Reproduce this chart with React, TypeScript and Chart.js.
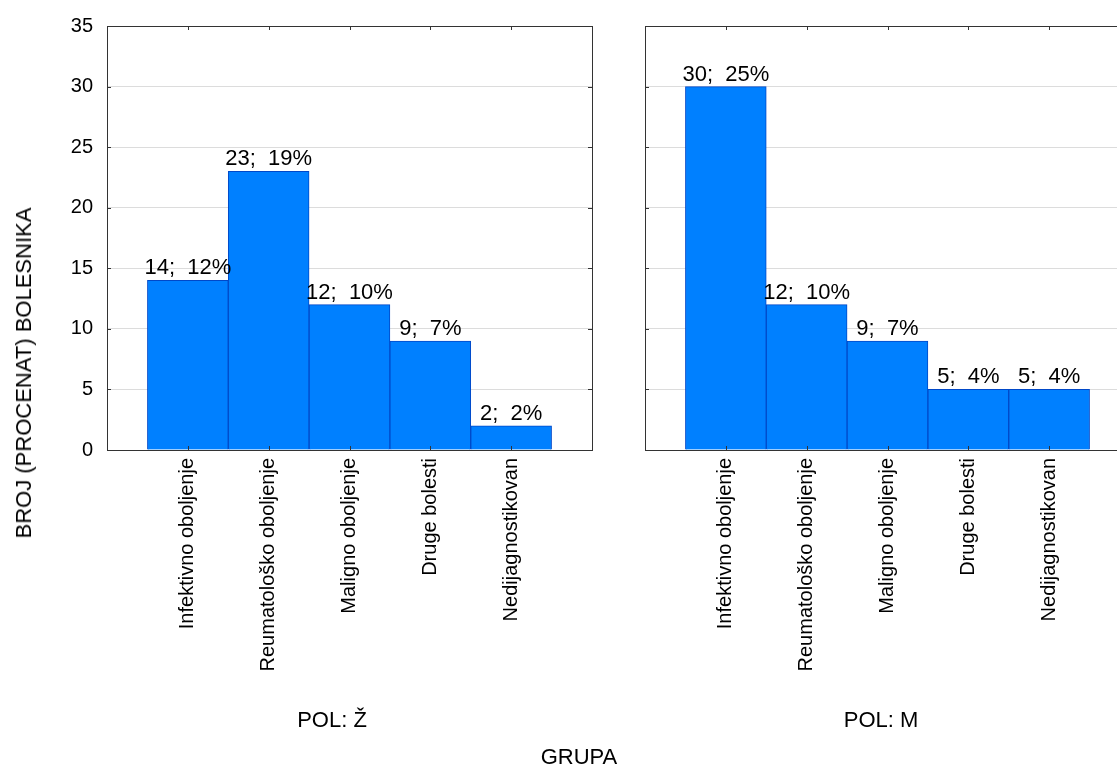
import React, { useEffect, useRef } from "react";
import { Chart, registerables } from "chart.js";

Chart.register(...registerables);

const categories = [
  "Infektivno oboljenje",
  "Reumatološko oboljenje",
  "Maligno oboljenje",
  "Druge bolesti",
  "Nedijagnostikovan",
];
const femaleCounts = [14, 23, 12, 9, 2];
const femalePercents = ["12%", "19%", "10%", "7%", "2%"];
const maleCounts = [30, 12, 9, 5, 5];
const malePercents = ["25%", "10%", "7%", "4%", "4%"];
const yTicks = [0, 5, 10, 15, 20, 25, 30, 35];

const FONT = "'Liberation Sans', Arial, sans-serif";

function makeConfig(values: number[], percents: string[], showY: boolean, yWidth: number, rightPad: number): any {
  const labels = ["", ...categories, ""];
  const data = [null, ...values, null];
  const framePlugin = {
    id: "frame",
    afterDatasetsDraw(chart: any) {
      const ctx = chart.ctx;
      const meta = chart.getDatasetMeta(0);
      ctx.save();
      ctx.fillStyle = "#000";
      ctx.font = `22px ${FONT}`;
      ctx.textAlign = "center";
      ctx.textBaseline = "alphabetic";
      meta.data.forEach((bar: any, i: number) => {
        const v = data[i];
        if (v == null) return;
        ctx.fillText(`${v};  ${percents[i - 1]}`, bar.x, bar.y - 6);
      });
      ctx.restore();
    },
    afterDraw(chart: any) {
      const ctx = chart.ctx;
      const { left, right, top, bottom } = chart.chartArea;
      const xs = chart.scales.x;
      const ys = chart.scales.y;
      ctx.save();
      ctx.strokeStyle = "#333";
      ctx.lineWidth = 1;
      ctx.strokeRect(Math.round(left) + 0.5, Math.round(top) + 0.5, Math.round(right - left), Math.round(bottom - top));
      ctx.beginPath();
      for (let i = 1; i <= categories.length; i++) {
        const px = Math.round(xs.getPixelForValue(i)) + 0.5;
        ctx.moveTo(px, bottom);
        ctx.lineTo(px, bottom - 4);
        ctx.moveTo(px, top);
        ctx.lineTo(px, top + 4);
      }
      yTicks.forEach((t) => {
        const py = Math.round(ys.getPixelForValue(t)) + 0.5;
        ctx.moveTo(left, py);
        ctx.lineTo(left + 4, py);
        ctx.moveTo(right, py);
        ctx.lineTo(right - 4, py);
      });
      ctx.stroke();
      ctx.restore();
    },
  };
  return {
    type: "bar",
    data: {
      labels,
      datasets: [
        {
          data,
          backgroundColor: "rgb(0,128,255)",
          borderColor: "rgb(0,72,200)",
          borderWidth: 1,
          barPercentage: 1,
          categoryPercentage: 1,
        },
      ],
    },
    options: {
      responsive: false,
      animation: false,
      layout: { padding: { left: 0, right: rightPad, top: 26, bottom: 69 } },
      plugins: { legend: { display: false }, tooltip: { enabled: false } },
      scales: {
        x: {
          type: "category",
          offset: false,
          grid: { display: false, drawTicks: false },
          border: { display: false },
          ticks: {
            autoSkip: false,
            minRotation: 90,
            maxRotation: 90,
            padding: 8,
            color: "#000",
            font: { family: FONT, size: 20 },
          },
          afterFit: (s: any) => {
            s.height = 250;
            s.paddingLeft = 0;
            s.paddingRight = 0;
          },
        },
        y: {
          min: 0,
          max: 35,
          ticks: {
            display: showY,
            stepSize: 5,
            padding: 14,
            color: "#000",
            font: { family: FONT, size: 20 },
          },
          grid: { color: "#dcdcdc", drawTicks: false },
          border: { display: false },
          afterFit: (s: any) => {
            s.width = yWidth;
            s.paddingTop = 0;
            s.paddingBottom = 0;
          },
        },
      },
    },
    plugins: [framePlugin],
  };
}

export default function App() {
  const c1 = useRef<HTMLCanvasElement>(null);
  const c2 = useRef<HTMLCanvasElement>(null);
  useEffect(() => {
    const ch1 = new Chart(c1.current as any, makeConfig(femaleCounts, femalePercents, true, 107, 8));
    const ch2 = new Chart(c2.current as any, makeConfig(maleCounts, malePercents, false, 45, 70));
    return () => {
      ch1.destroy();
      ch2.destroy();
    };
  }, []);
  const textStyle: React.CSSProperties = {
    position: "absolute",
    fontFamily: FONT,
    fontSize: 22,
    color: "#000",
    whiteSpace: "nowrap",
    lineHeight: "24px",
  };
  return (
    <div
      style={{
        position: "fixed",
        left: 0,
        top: 0,
        width: 1117,
        height: 769,
        overflow: "hidden",
        background: "#fff",
      }}
    >
      <canvas ref={c1} width={600} height={769} style={{ position: "absolute", left: 0, top: 0 }} />
      <canvas ref={c2} width={600} height={769} style={{ position: "absolute", left: 600, top: 0 }} />
      <div
        style={{
          ...textStyle,
          left: 24,
          top: 373,
          transform: "translate(-50%, -50%) rotate(-90deg)",
        }}
      >
        BROJ (PROCENAT) BOLESNIKA
      </div>
      <div style={{ ...textStyle, left: 332, top: 720, transform: "translate(-50%, -50%)" }}>POL:  Ž</div>
      <div style={{ ...textStyle, left: 881, top: 720, transform: "translate(-50%, -50%)" }}>POL:  M</div>
      <div style={{ ...textStyle, left: 579, top: 757, transform: "translate(-50%, -50%)" }}>GRUPA</div>
    </div>
  );
}
